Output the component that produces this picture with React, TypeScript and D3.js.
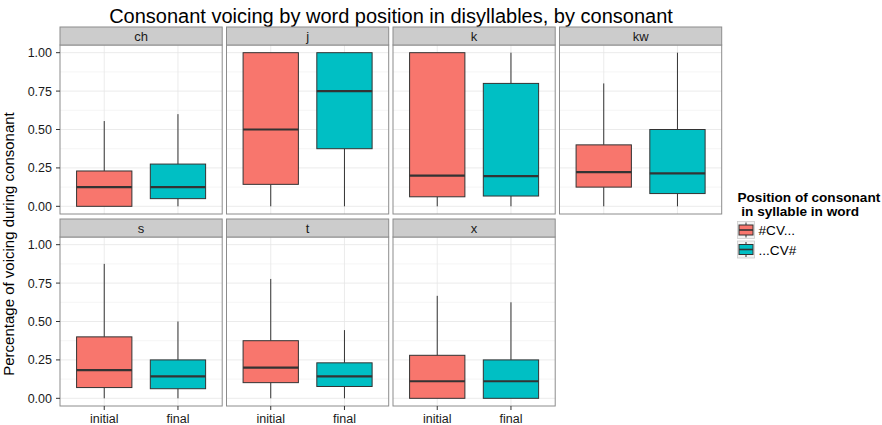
import React from "react";
import * as d3 from "d3";

// Facets, groups and summary statistics: [lower whisker, Q1, median, Q3, upper whisker]
const consonants = ["ch", "j", "k", "kw", "s", "t", "x"];
const positions = ["initial", "final"];
const legendLabels = ["#CV...", "...CV#"];
const yTicks = [0, 0.25, 0.5, 0.75, 1];
const yTickLabels = ["0.00", "0.25", "0.50", "0.75", "1.00"];
const yMinorTicks = [0.125, 0.375, 0.625, 0.875];

const initialStats = [
  [0, 0, 0.125, 0.23, 0.555],
  [0, 0.143, 0.5, 1, 1],
  [0, 0.062, 0.2, 1, 1],
  [0, 0.125, 0.222, 0.4, 0.8],
  [0, 0.07, 0.183, 0.4, 0.875],
  [0, 0.102, 0.2, 0.375, 0.777],
  [0, 0, 0.111, 0.28, 0.667],
];
const finalStats = [
  [0, 0.05, 0.125, 0.275, 0.6],
  [0, 0.375, 0.75, 1, 1],
  [0, 0.067, 0.196, 0.8, 1],
  [0, 0.083, 0.214, 0.5, 1],
  [0, 0.0625, 0.143, 0.25, 0.5],
  [0, 0.077, 0.143, 0.231, 0.444],
  [0, 0, 0.111, 0.25, 0.625],
];

const fills = ["#F8766D", "#00BFC4"];
const FONT = "'Liberation Sans', Arial, Helvetica, sans-serif";

const W = 882;
const H = 425;
const panelLeft0 = 60;
const panelW = 162.2;
const panelGap = 4.3;
const stripH = 18;
const rowTop0 = 27;
const rowPitch = 192;
const panelH = 169;
const ncol = 4;

export default function App() {
  const color = d3.scaleOrdinal<string, string>().domain(positions).range(fills);

  const panels = consonants.map((c, i) => {
    const col = i % ncol;
    const row = Math.floor(i / ncol);
    const left = panelLeft0 + col * (panelW + panelGap);
    const stripTop = rowTop0 + row * rowPitch;
    const top = stripTop + stripH;
    const bottom = top + panelH;
    const x = d3.scalePoint<string>().domain(positions).range([left, left + panelW]).padding(0.6);
    const y = d3.scaleLinear().domain([-0.05, 1.05]).range([bottom, top]);
    return { c, i, col, row, left, stripTop, top, bottom, x, y };
  });

  return (
    <div style={{ position: "absolute", left: 0, top: 0 }}>
      <svg width={W} height={H} style={{ display: "block", background: "#fff" }} fontFamily={FONT}>
        <text x={391} y={23} textAnchor="middle" fontSize={20} fill="#000">
          Consonant voicing by word position in disyllables, by consonant
        </text>
        <text
          transform={`translate(14,244) rotate(-90)`}
          textAnchor="middle"
          fontSize={15}
          fill="#000"
        >
          Percentage of voicing during consonant
        </text>

        {panels.map((p) => {
          const step = p.x.step();
          const bw = step * 0.75;
          const stats = [initialStats[p.i], finalStats[p.i]];
          return (
            <g key={p.c}>
              <rect x={p.left} y={p.top} width={panelW} height={panelH} fill="#fff" />
              {yMinorTicks.map((t) => (
                <line key={"m" + t} x1={p.left} x2={p.left + panelW} y1={p.y(t)} y2={p.y(t)} stroke="#f5f5f5" strokeWidth={1} />
              ))}
              {yTicks.map((t) => (
                <line key={"g" + t} x1={p.left} x2={p.left + panelW} y1={p.y(t)} y2={p.y(t)} stroke="#e6e6e6" strokeWidth={0.8} />
              ))}
              {positions.map((pos) => (
                <line key={"v" + pos} x1={p.x(pos)} x2={p.x(pos)} y1={p.top} y2={p.bottom} stroke="#e6e6e6" strokeWidth={0.8} />
              ))}

              {positions.map((pos, k) => {
                const [lo, q1, med, q3, hi] = stats[k];
                const cx = p.x(pos)!;
                return (
                  <g key={pos}>
                    <line x1={cx} x2={cx} y1={p.y(hi)} y2={p.y(q3)} stroke="#333" strokeWidth={1} />
                    <line x1={cx} x2={cx} y1={p.y(q1)} y2={p.y(lo)} stroke="#333" strokeWidth={1} />
                    <rect
                      x={cx - bw / 2}
                      y={p.y(q3)}
                      width={bw}
                      height={p.y(q1) - p.y(q3)}
                      fill={color(pos)}
                      stroke="#333"
                      strokeWidth={1}
                    />
                    <line x1={cx - bw / 2} x2={cx + bw / 2} y1={p.y(med)} y2={p.y(med)} stroke="#333" strokeWidth={2.2} />
                  </g>
                );
              })}

              <rect x={p.left} y={p.top} width={panelW} height={panelH} fill="none" stroke="#8c8c8c" strokeWidth={1} />
              <rect x={p.left} y={p.stripTop} width={panelW} height={stripH} fill="#cccccc" stroke="#8c8c8c" strokeWidth={1} />
              <text x={p.left + panelW / 2} y={p.stripTop + stripH / 2 + 4.5} textAnchor="middle" fontSize={13} fill="#1a1a1a">
                {p.c}
              </text>

              {p.col === 0 &&
                yTicks.map((t, k) => (
                  <g key={"yt" + t}>
                    <line x1={p.left - 4} x2={p.left} y1={p.y(t)} y2={p.y(t)} stroke="#333" strokeWidth={1} />
                    <text x={p.left - 8} y={p.y(t) + 4.5} textAnchor="end" fontSize={12.5} fill="#1a1a1a">
                      {yTickLabels[k]}
                    </text>
                  </g>
                ))}

              {p.row === 1 &&
                positions.map((pos) => (
                  <g key={"xt" + pos}>
                    <line x1={p.x(pos)} x2={p.x(pos)} y1={p.bottom} y2={p.bottom + 4} stroke="#333" strokeWidth={1} />
                    <text x={p.x(pos)} y={p.bottom + 17} textAnchor="middle" fontSize={12.5} fill="#1a1a1a">
                      {pos}
                    </text>
                  </g>
                ))}
            </g>
          );
        })}

        {/* legend */}
        <g>
          <text x={737.5} y={201.5} fontSize={13.6} fontWeight="bold" fill="#000">
            Position of consonant
          </text>
          <text x={737.5} y={216} fontSize={13.6} fontWeight="bold" fill="#000" xmlSpace="preserve">
            {" in syllable in word"}
          </text>
          {positions.map((pos, k) => {
            const ks = 17;
            const ky = 221.5 + k * 19.5;
            const kx = 737.5;
            return (
              <g key={"lg" + pos}>
                <rect x={kx} y={ky} width={ks} height={ks} fill="#f2f2f2" stroke="#cccccc" strokeWidth={0.8} />
                <line x1={kx + ks / 2} x2={kx + ks / 2} y1={ky + 1} y2={ky + ks - 1} stroke="#333" strokeWidth={1} />
                <rect x={kx + 1.5} y={ky + 3.5} width={ks - 3} height={ks - 7} fill={color(pos)} stroke="#333" strokeWidth={1} />
                <line x1={kx + 1.5} x2={kx + ks - 1.5} y1={ky + ks / 2} y2={ky + ks / 2} stroke="#333" strokeWidth={1.6} />
                <text x={kx + ks + 4} y={ky + ks / 2 + 5} fontSize={13.6} fill="#000">
                  {legendLabels[k]}
                </text>
              </g>
            );
          })}
        </g>
      </svg>
    </div>
  );
}
